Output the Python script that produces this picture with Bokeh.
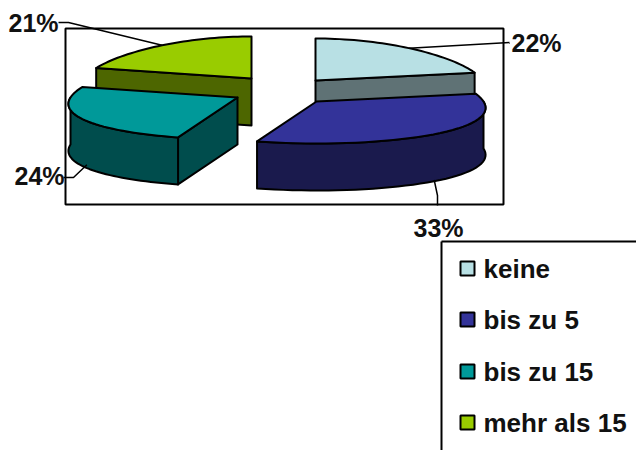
import math
from bokeh.plotting import figure
from bokeh.embed import file_html
from bokeh.resources import INLINE
from bokeh.core.properties import value

categories = ["keine", "bis zu 5", "bis zu 15", "mehr als 15"]
percent = [22, 33, 24, 21]
face_colors = ["#B8E0E4", "#333399", "#009999", "#99CC00"]
side_colors = ["#5F7275", "#1A1A4D", "#004D4D", "#4D6600"]

# layout of the exploded pie, in page pixels
apex = [(315, 80), (316, 101), (237, 97), (251, 78)]
RX, RY, PERSP, DEPTH = 167, 42, 0.16, 47
FONT = value("Liberation Sans")

p = figure(width=636, height=450, x_range=(0, 636), y_range=(450, 0),
           toolbar_location=None, output_backend="svg", min_border=0)
p.axis.visible = False
p.grid.visible = False
p.outline_line_color = None
p.background_fill_color = "white"
p.border_fill_color = "white"

# plot frame
p.quad(left=[65], right=[503], top=[28], bottom=[204], fill_color="white",
       line_color="black", line_width=2)

total = sum(percent)
edges = [0.0]
for v in percent:
    edges.append(edges[-1] + 360.0 * v / total)


def rim(i, deg):
    t = math.radians(deg)
    ax, ay = apex[i]
    return (ax + RX * math.sin(t) * (1 - PERSP * math.cos(t)), ay - RY * math.cos(t))


def arc(i, a, b, n=40):
    return [rim(i, a + (b - a) * k / n) for k in range(n + 1)]


def poly(pts, color):
    p.patch([q[0] for q in pts], [q[1] for q in pts], fill_color=color,
            line_color="black", line_width=2, line_join="round")


def extrude(pts):
    return pts + [(x, y + DEPTH) for x, y in reversed(pts)]


def slice_face(i):
    return [apex[i]] + arc(i, edges[i], edges[i + 1])


# back slices first, the front ones overlap them
# keine: inner wall along its closing edge
poly(extrude([apex[0], rim(0, edges[1])]), side_colors[0])
poly(slice_face(0), face_colors[0])
# mehr als 15: inner wall along its opening edge
poly(extrude([apex[3], rim(3, edges[3])]), side_colors[3])
poly(slice_face(3), face_colors[3])
# bis zu 15: inner wall and outer wall
poly(extrude([apex[2], rim(2, edges[2])]), side_colors[2])
poly(extrude(arc(2, edges[2], 270)), side_colors[2])
poly(slice_face(2), face_colors[2])
# bis zu 5: outer wall
poly(extrude(arc(1, 90, edges[2])), side_colors[1])
poly(slice_face(1), face_colors[1])

# leader lines and percent labels
mid = [(edges[i] + edges[i + 1]) / 2 for i in range(4)]
a0 = rim(0, mid[0])
a1 = rim(1, mid[1]); a1 = (a1[0] - 6, a1[1] + DEPTH)
a2 = rim(2, mid[2]); a2 = (a2[0] + 7, a2[1] + DEPTH)
a3 = rim(3, mid[3])
leaders = [
    [a0, (509, 42)],
    [a1, (437, 195), (437, 205)],
    [a2, (73, 177), (63, 177)],
    [a3, (68, 22), (58, 22)],
]
for seg in leaders:
    p.line([q[0] for q in seg], [q[1] for q in seg], line_color="black", line_width=1.5)

label_x = [511, 413, 14, 8]
label_y = [42, 227, 175, 22]
p.text(x=label_x, y=label_y, text=[f"{v}%" for v in percent], text_font=FONT,
       text_font_style="bold", text_font_size="25px", text_color="#111111",
       text_baseline="middle", text_align="left")

# legend box, cut by the page edges
p.line([441, 441], [450, 241], line_color="black", line_width=2)
p.line([441, 636], [241, 241], line_color="black", line_width=2)
row_base = [277, 328, 380, 431]
p.quad(left=[460] * 4, right=[474] * 4, top=[b - 16 for b in row_base],
       bottom=[b - 2 for b in row_base], fill_color=face_colors, line_color="black", line_width=2)
p.text(x=[483] * 4, y=[b - 9 for b in row_base], text=categories, text_font=FONT, text_font_style="bold",
       text_font_size="26px", text_color="#111111", text_baseline="middle", text_align="left")

open("out.html", "w").write(file_html(p, INLINE))
